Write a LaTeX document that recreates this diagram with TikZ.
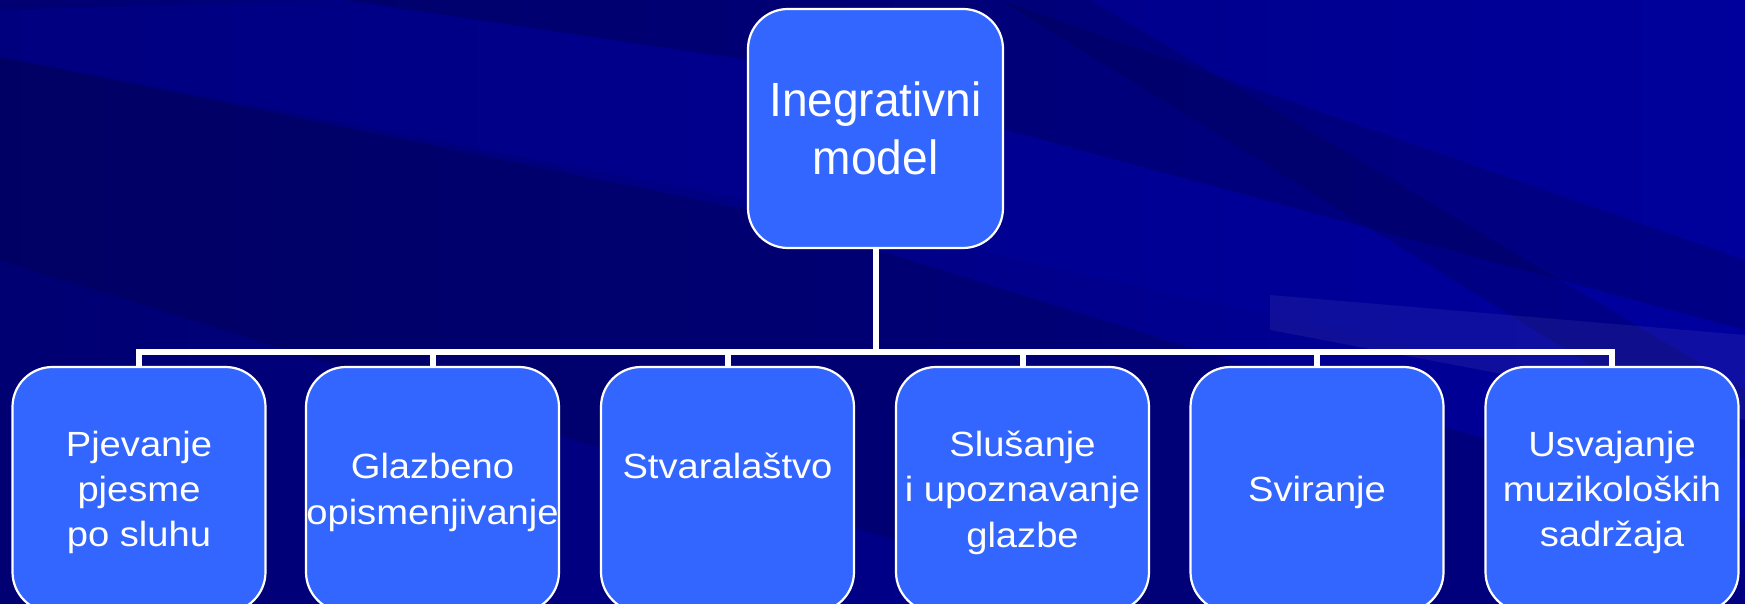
\documentclass[tikz,border=0pt]{standalone}
\usepackage{fontspec}
\setmainfont{Liberation Sans}
\newfontfamily\topfont[FakeStretch=0.96]{Liberation Sans}
\newfontfamily\childfont[FakeStretch=1.09]{Liberation Sans}
\definecolor{boxblue}{HTML}{3366FF}
\definecolor{bgleft}{HTML}{000072}
\definecolor{bgright}{HTML}{00009C}
\definecolor{banddark}{HTML}{000045}
\definecolor{bandlight}{HTML}{0000A8}
\begin{document}
\begin{tikzpicture}[x=0.5pt,y=-0.5pt,
  box/.style={draw=white,line width=1.1pt,fill=boxblue,rounded corners=20pt,
    minimum width=126.5pt,minimum height=122.5pt,inner sep=0pt},
  toptext/.style={text=white,align=center,font=\topfont\fontsize{24}{28.8}\selectfont},
  childtext/.style={text=white,align=center,font=\childfont\fontsize{17.5}{22.7}\selectfont},
  conn/.style={draw=white,line width=3pt}]

% background
\useasboundingbox (0,0) rectangle (1745,604);
\clip (0,0) rectangle (1745,604);
\shade[left color=bgleft,right color=bgright] (0,0) rectangle (1745,604);
\fill[banddark,opacity=0.3] (0,57) -- (748,210) -- (1745,520) -- (1745,604) -- (1100,604) -- (0,260) -- cycle;
\fill[bandlight,opacity=0.25] (0,10) -- (345,0) -- (748,60) -- (1745,330) -- (1745,420) -- (748,200) -- (0,57) -- cycle;
\fill[banddark,opacity=0.25] (345,0) -- (1000,0) -- (1745,260) -- (1745,330) -- (748,60) -- cycle;
\fill[banddark,opacity=0.25] (1000,0) -- (1090,0) -- (1745,390) -- (1745,460) -- cycle;
\fill[white,opacity=0.06] (1270,295) -- (1745,335) -- (1745,420) -- (1270,330) -- cycle;

% top box
\node[box,toptext,minimum width=127.5pt,minimum height=119.5pt] (top) at (875.5,128.5) {Inegrativni\\model};

% child boxes
\node[box] (pjev) at (139,489.5) {};
\node[box] (glaz) at (432.5,489.5) {};
\node[box] (stva) at (727.5,489.5) {};
\node[box] (slus) at (1022.5,489.5) {};
\node[box] (svir) at (1317,489.5) {};
\node[box] (usva) at (1612,489.5) {};

% child texts
\node[childtext,yshift=-1.5pt] (pjev-t) at (pjev.center) {Pjevanje\\pjesme\\po sluhu};
\node[childtext,yshift=-1.5pt] (glaz-t) at (glaz.center) {Glazbeno\\opismenjivanje};
\node[childtext,yshift=12pt] (stva-t) at (stva.center) {Stvaralaštvo};
\node[childtext,yshift=-1.5pt] (slus-t) at (slus.center) {Slušanje\\i upoznavanje\\glazbe};
\node[childtext,yshift=-1.5pt] (svir-t) at (svir.center) {Sviranje};
\node[childtext,yshift=-1.5pt] (usva-t) at (usva.center) {Usvajanje\\muzikoloških\\sadržaja};

% connectors
\coordinate (bar) at (875.5,352);
\draw[conn] (top.south) -- (bar);
\foreach \c in {pjev,glaz,stva,slus,svir,usva}
  \draw[conn] (\c.north) |- (bar);

\end{tikzpicture}
\end{document}
